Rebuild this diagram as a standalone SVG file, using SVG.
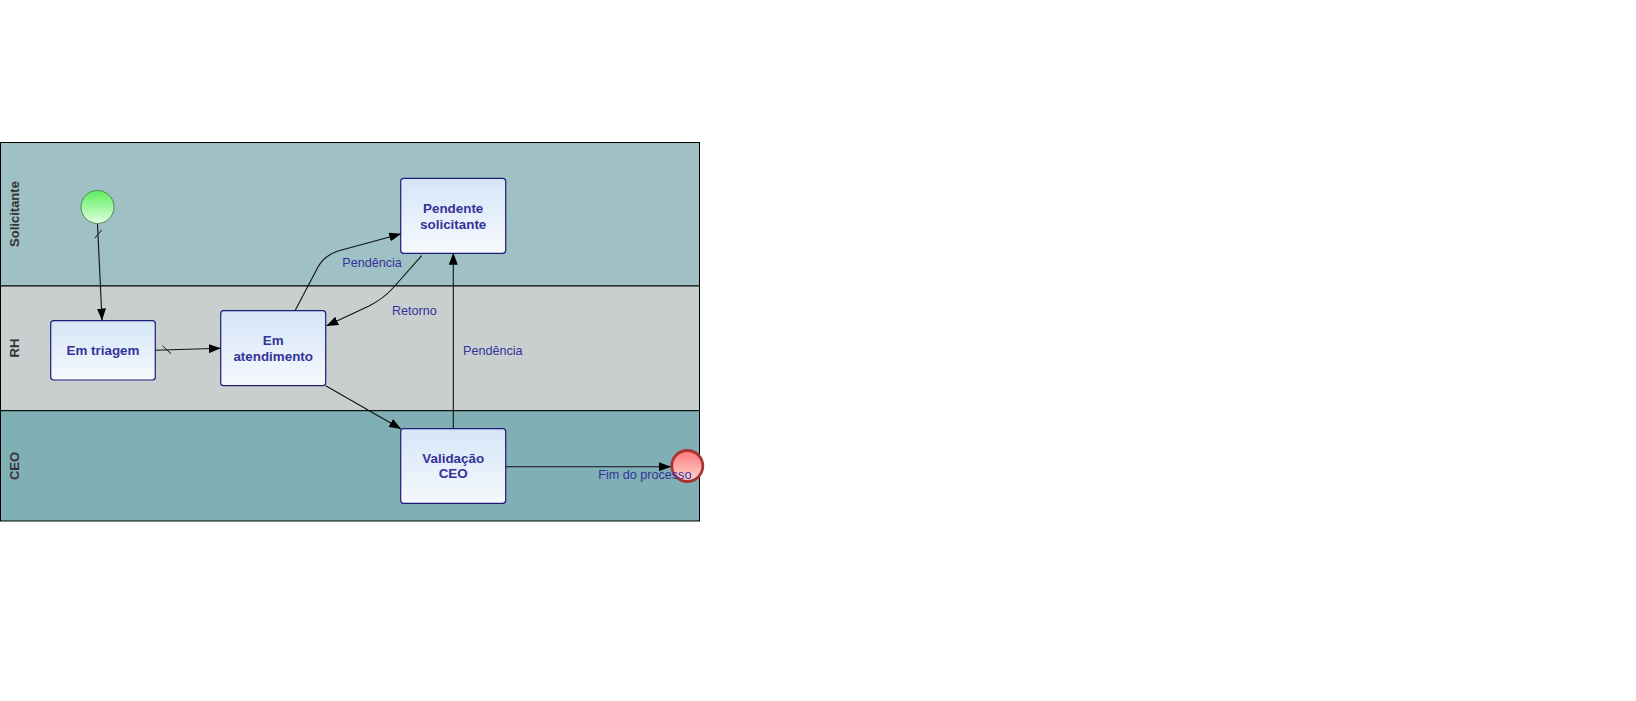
<svg xmlns="http://www.w3.org/2000/svg" width="1636" height="701" viewBox="0 0 1636 701">
<style>
.lane{stroke:#000;stroke-width:1}
.lanelbl{font-family:"Liberation Sans",Arial,sans-serif;font-size:13px;font-weight:bold;fill:#333;text-anchor:middle}
.task rect{fill:url(#taskGrad);stroke:#1c1c78;stroke-width:1.2}
.task text{font-family:"Liberation Sans",Arial,sans-serif;font-size:13.4px;font-weight:bold;fill:#33339a;text-anchor:middle}
.conn{fill:none;stroke:#111;stroke-width:1.1}
.tick{stroke:#111;stroke-width:1}
.lbl{font-family:"Liberation Sans",Arial,sans-serif;font-size:12.6px;fill:#33339a}
</style>
<defs>
<linearGradient id="taskGrad" x1="0" y1="0" x2="0" y2="1">
<stop offset="0" stop-color="#d5e5f7"/>
<stop offset="1" stop-color="#f6f9fd"/>
</linearGradient>
<linearGradient id="startGrad" x1="0" y1="0" x2="0" y2="1">
<stop offset="0" stop-color="#5cee5c"/>
<stop offset="1" stop-color="#e2ffe2"/>
</linearGradient>
<linearGradient id="endGrad" x1="0" y1="0" x2="0" y2="1">
<stop offset="0" stop-color="#ff7878"/>
<stop offset="1" stop-color="#ffd6d6"/>
</linearGradient>
<marker id="arr" markerWidth="12" markerHeight="9" refX="11.5" refY="4.5" orient="auto" markerUnits="userSpaceOnUse">
<path d="M0,0 L12,4.5 L0,9 Z" fill="#000"/>
</marker>
</defs>
<rect width="1636" height="701" fill="#fff"/>

<g id="pool">
<rect class="lane" x="0.5" y="142.5" width="699" height="143.5" fill="#9fc0c4"/>
<rect class="lane" x="0.5" y="286" width="699" height="124.7" fill="#c9cfcf"/>
<rect class="lane" x="0.5" y="410.7" width="699" height="110.3" fill="#80b0b5"/>
<text class="lanelbl" transform="translate(18.5,214) rotate(-90)">Solicitante</text>
<text class="lanelbl" transform="translate(18.5,348) rotate(-90)">RH</text>
<text class="lanelbl" transform="translate(18.5,466) rotate(-90)">CEO</text>
</g>

<g id="start">
<circle cx="97.5" cy="207" r="16.5" fill="url(#startGrad)" stroke="#4f8a4f" stroke-width="1"/>
</g>

<g id="emTriagem" class="task">
<rect x="50.7" y="320.7" width="104.6" height="59.3" rx="3"/>
<text x="103" y="355">Em triagem</text>
</g>

<g id="emAtendimento" class="task">
<rect x="220.7" y="310.7" width="105" height="75" rx="3"/>
<text x="273.2" y="345">Em</text>
<text x="273.2" y="361">atendimento</text>
</g>

<g id="pendenteSolicitante" class="task">
<rect x="400.7" y="178.3" width="105" height="75" rx="3"/>
<text x="453.2" y="213">Pendente</text>
<text x="453.2" y="228.5">solicitante</text>
</g>

<g id="validacaoCEO" class="task">
<rect x="400.7" y="428.7" width="105" height="74.6" rx="3"/>
<text x="453.2" y="462.7">Validação</text>
<text x="453.2" y="478.3">CEO</text>
</g>

<g id="end">
<circle cx="687.3" cy="466" r="15.5" fill="url(#endGrad)" stroke="#a83434" stroke-width="2.8"/>
</g>

<g id="connectors">
<path class="conn" d="M97.5,224 L102,320" marker-end="url(#arr)"/>
<line class="tick" x1="95" y1="238" x2="101.7" y2="230"/>
<path class="conn" d="M155.3,350.3 L220.3,348.3" marker-end="url(#arr)"/>
<line class="tick" x1="162.3" y1="345.7" x2="171" y2="353.7"/>
<path class="conn" d="M295,310.7 L318,267 Q324,256 338,251 L400.7,234" marker-end="url(#arr)"/>
<path class="conn" d="M421.7,255.7 L393,288 Q383,299 369,306 L326.7,325.7" marker-end="url(#arr)"/>
<path class="conn" d="M325.7,385.7 L400.7,428.7" marker-end="url(#arr)"/>
<path class="conn" d="M453.3,428.7 L453.3,253.3" marker-end="url(#arr)"/>
<path class="conn" d="M505.7,466.7 L670.5,466.7" marker-end="url(#arr)"/>
<text class="lbl" x="342.3" y="266.5">Pendência</text>
<text class="lbl" x="392" y="315">Retorno</text>
<text class="lbl" x="463" y="354.5">Pendência</text>
<text class="lbl" x="598.3" y="479">Fim do processo</text>
</g>
</svg>
